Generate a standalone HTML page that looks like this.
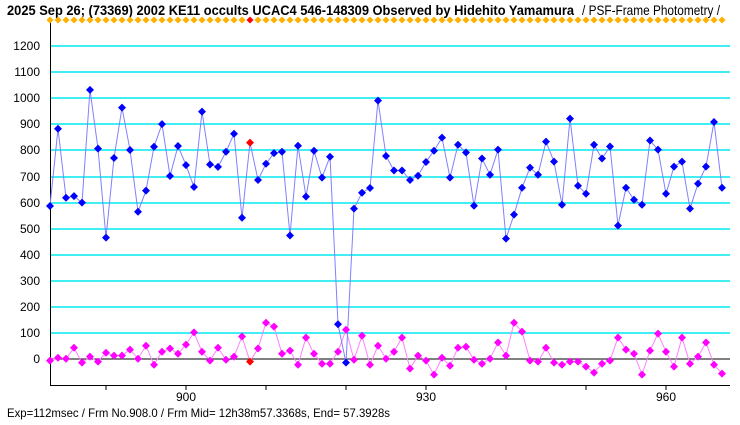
<!DOCTYPE html>
<html><head><meta charset="utf-8"><style>
body{margin:0;background:#fff;width:740px;height:425px;overflow:hidden}
svg{display:block}
text{font-family:"Liberation Sans",sans-serif}
</style></head><body>
<svg id="c" width="740" height="425" xmlns="http://www.w3.org/2000/svg">
<text x="7" y="15" font-size="14" font-weight="bold" textLength="567" lengthAdjust="spacingAndGlyphs">2025 Sep 26; (73369) 2002 KE11 occults UCAC4 546-148309 Observed by Hidehito Yamamura</text>
<text x="582" y="15" font-size="14" textLength="138" lengthAdjust="spacingAndGlyphs">/ PSF-Frame Photometry /</text>
<g stroke="#00e8f0" stroke-width="1.5">
<line x1="50" x2="730" y1="46" y2="46"/><line x1="50" x2="730" y1="72" y2="72"/><line x1="50" x2="730" y1="98" y2="98"/><line x1="50" x2="730" y1="124" y2="124"/><line x1="50" x2="730" y1="150" y2="150"/><line x1="50" x2="730" y1="177" y2="177"/><line x1="50" x2="730" y1="203" y2="203"/><line x1="50" x2="730" y1="229" y2="229"/><line x1="50" x2="730" y1="255" y2="255"/><line x1="50" x2="730" y1="281" y2="281"/><line x1="50" x2="730" y1="307" y2="307"/><line x1="50" x2="730" y1="333" y2="333"/>
</g>
<line x1="50" x2="730" y1="359" y2="359" stroke="#000"/>
<line x1="50.5" x2="50.5" y1="22" y2="385" stroke="#000"/>
<line x1="50" x2="730" y1="385.5" y2="385.5" stroke="#000"/>
<g stroke="#000"><line x1="106" x2="106" y1="385" y2="390"/><line x1="186" x2="186" y1="385" y2="390"/><line x1="266" x2="266" y1="385" y2="390"/><line x1="346" x2="346" y1="385" y2="390"/><line x1="426" x2="426" y1="385" y2="390"/><line x1="506" x2="506" y1="385" y2="390"/><line x1="586" x2="586" y1="385" y2="390"/><line x1="666" x2="666" y1="385" y2="390"/></g>
<g font-size="12" text-anchor="end">
<text x="40" y="50">1200</text><text x="40" y="76">1100</text><text x="40" y="102">1000</text><text x="40" y="128">900</text><text x="40" y="154">800</text><text x="40" y="181">700</text><text x="40" y="207">600</text><text x="40" y="233">500</text><text x="40" y="259">400</text><text x="40" y="285">300</text><text x="40" y="311">200</text><text x="40" y="337">100</text><text x="40" y="363">0</text>
</g>
<g font-size="12" text-anchor="middle"><text x="186" y="401">900</text><text x="426" y="401">930</text><text x="666" y="401">960</text></g>
<text x="7" y="417" font-size="12" textLength="383" lengthAdjust="spacingAndGlyphs">Exp=112msec / Frm No.908.0 / Frm Mid= 12h38m57.3368s,  End= 57.3928s</text>
<g id="g"></g>
</svg>
<script>
var B=[586,882,618,624,599,1031,806,465,770,963,801,564,645,813,900,701,816,743,659,948,745,736,794,863,541,829,686,748,789,794,473,817,622,798,695,775,133,-14,576,637,655,990,778,722,722,686,702,755,798,848,695,821,791,587,768,706,802,461,553,656,733,706,833,756,591,921,664,633,821,768,814,511,656,610,591,837,802,633,737,756,576,672,737,908,656];
var M=[-6,5,1,43,-14,9,-10,24,13,13,36,1,51,-22,28,40,20,55,102,28,-6,43,-3,9,86,-10,40,139,124,20,32,-22,82,20,-18,-18,28,112,-3,89,-22,51,1,28,82,-37,13,-6,-60,5,-26,43,47,-3,-18,1,63,13,139,105,-6,-10,43,-14,-22,-10,-10,-29,-52,-18,-6,82,36,20,-60,32,97,28,-29,82,-18,9,63,-22,-56];
var g=document.getElementById('g'),s='';
function X(i){return 50+8*i}function Y(v){return 359-0.261*v}
function line(a,c){var p=a.map(function(v,i){return X(i)+','+Y(v).toFixed(1)}).join(' ');s+='<polyline fill="none" stroke="'+c+'" stroke-width="1" points="'+p+'"/>';}
function dots(a,c){a.forEach(function(v,i){var x=X(i),y=Y(v),cc=(i==25)?'#ff0000':c;s+='<path d="M'+x+' '+(y-4)+'L'+(x+4)+' '+y+'L'+x+' '+(y+4)+'L'+(x-4)+' '+y+'Z" fill="'+cc+'"/>';});}
line(M,'#ff80ff');line(B,'#8080ff');dots(M,'#ff00ff');dots(B,'#0000ff');
for(var i=0;i<85;i++){var x=X(i);s+='<path d="M'+x+' 16.5L'+(x+3.5)+' 20L'+x+' 23.5L'+(x-3.5)+' 20Z" fill="'+(i==25?'#ff0000':'#ffb000')+'"/>';}
g.innerHTML=s;
</script>
</body></html>
